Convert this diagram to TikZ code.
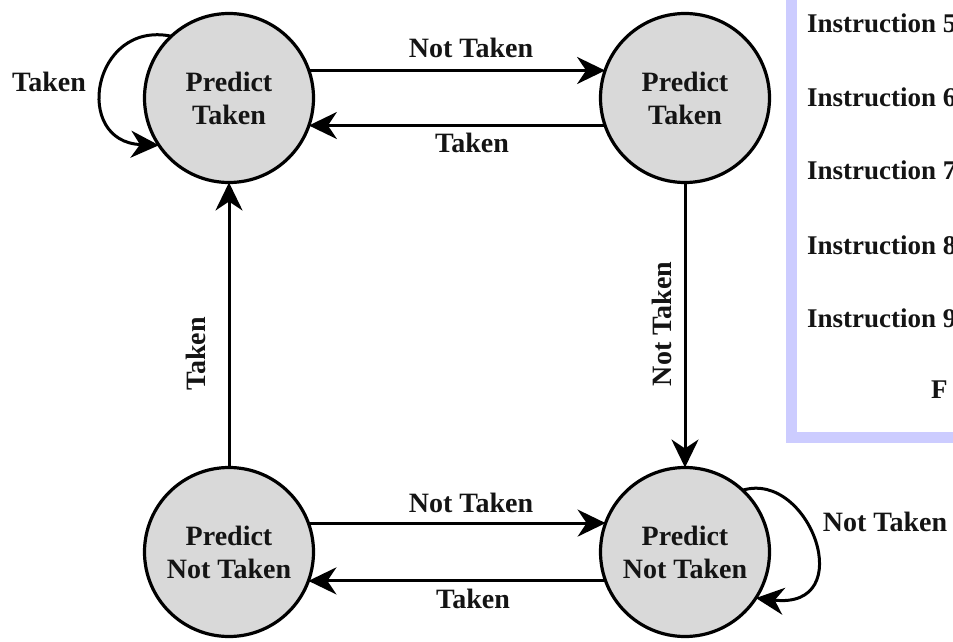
\documentclass[tikz,border=0pt]{standalone}
\usepackage{fontspec}
\setmainfont{Liberation Serif}
\usetikzlibrary{arrows.meta}
\definecolor{stategray}{RGB}{217,217,217}
\definecolor{panelblue}{RGB}{204,204,255}
\definecolor{inkblack}{RGB}{20,20,20}
\tikzset{
  state/.style={circle, draw=black, fill=stategray, line width=3.2pt, minimum size=169pt, inner sep=0pt, outer sep=0pt, align=center, text=inkblack, font=\fontsize{28}{33}\selectfont\bfseries},
  arr/.style={-{Stealth[length=28pt,width=27pt,inset=9pt]}, line width=3pt},
  lbl/.style={text=inkblack, font=\fontsize{28}{33}\selectfont\bfseries, inner sep=0pt},
  instr/.style={text=inkblack, font=\fontsize{27}{32}\selectfont\bfseries, inner sep=0pt, anchor=west}
}
\begin{document}
\begin{tikzpicture}[x=1pt,y=-1pt]
\useasboundingbox (0,0) rectangle (953,642);
% right panel (partly cut off)
\draw[panelblue, line width=11pt] (791,-20) -- (791,437.5) -- (980,437.5);
\node[instr] (i5) at (807,23) {Instruction 5};
\node[instr] (i6) at (807,97) {Instruction 6};
\node[instr] (i7) at (807,170) {Instruction 7};
\node[instr] (i8) at (807,245) {Instruction 8};
\node[instr] (i9) at (807,318) {Instruction 9};
\node[instr] (fig) at (931,390) {F};
% states
\node[state] (tl) at (229,98) {Predict\\Taken};
\node[state] (tr) at (685,98) {Predict\\Taken};
\node[state] (bl) at (229,552) {Predict\\Not Taken};
\node[state] (br) at (685,552) {Predict\\Not Taken};
% transitions
\draw[arr] (tl.19) -- (tr.161);
\draw[arr] (tr.199) -- (tl.-19);
\draw[arr] (bl.20) -- (br.160);
\draw[arr] (br.200) -- (bl.-20);
\draw[arr] (bl.north) -- (tl.south);
\draw[arr] (tr.south) -- (br.north);
\draw[arr] (tl.133) .. controls (92,20) and (72,142) .. (tl.214);
\draw[arr] (br.47) .. controls (810,470) and (860,610) .. (br.-33);
% labels
\node[lbl] (l1) at (471,48) {Not Taken};
\node[lbl] (l2) at (472,143) {Taken};
\node[lbl] (l3) at (471,503) {Not Taken};
\node[lbl] (l4) at (473,599) {Taken};
\node[lbl, rotate=90] (l5) at (196,354) {Taken};
\node[lbl, rotate=90] (l6) at (662,324) {Not Taken};
\node[lbl] (l7) at (49,82) {Taken};
\node[lbl] (l8) at (885,522) {Not Taken};
\end{tikzpicture}
\end{document}
